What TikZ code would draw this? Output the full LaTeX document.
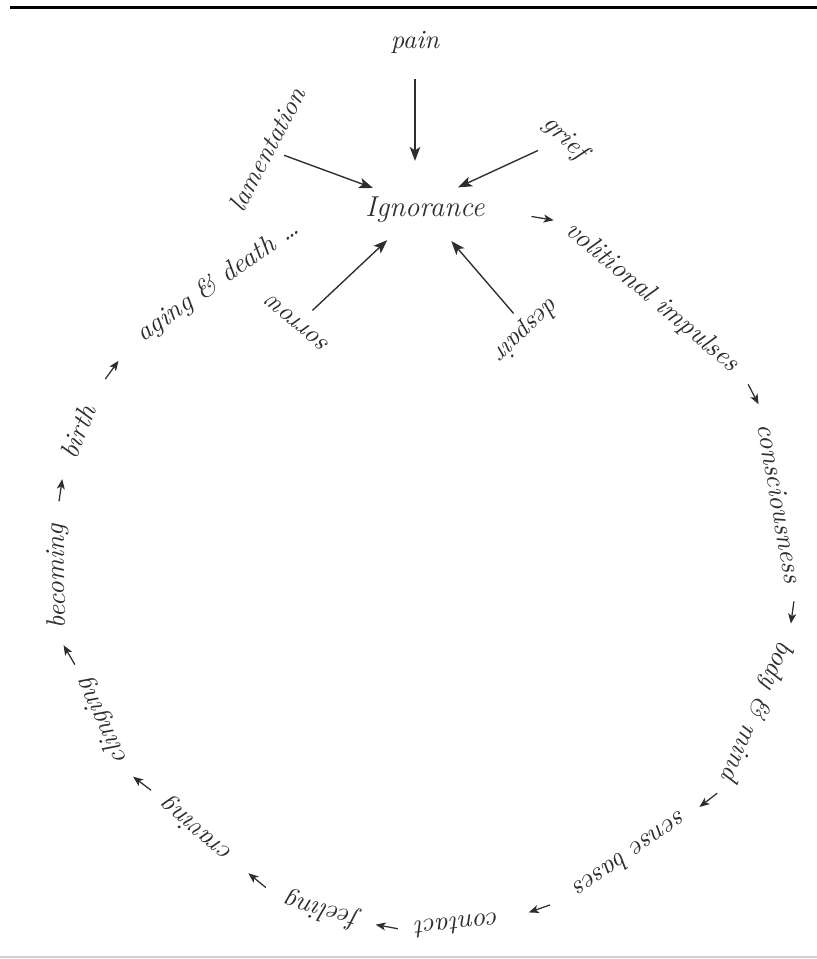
\documentclass[tikz,border=0pt]{standalone}
\usepackage{amsmath,amssymb}
\usepackage{xcolor}
\usepackage{tikz}
\usetikzlibrary{arrows.meta, decorations.markings}

\definecolor{ink}{HTML}{2E2E2E}

\begin{document}
\begin{tikzpicture}[
        x=0.4pt, y=0.4pt,
        every node/.style={text=ink},
        centre/.style={font=\fontsize{11.5}{14}\selectfont\itshape},
        woe/.style={font=\fontsize{10.5}{13}\selectfont\itshape},
        link/.style={font=\fontsize{10.8}{13}\selectfont\itshape},
        arrow/.style={-{Stealth[length=5.6pt, width=4.2pt, inset=1.4pt]}, line width=0.55pt, draw=ink},
        flow/.style={decoration={markings, mark=at position #1 with
            {\draw[-{Stealth[length=4pt, width=3.2pt, inset=1pt]}, line width=0.5pt, draw=ink] (-4.5pt,0) -- (4.5pt,0);}},
            decorate},
        flow/.default=0.5
    ]
    \useasboundingbox (-420,-389) rectangle (397,570);

    % Rules
    \draw[line width=1.2pt, black] (-410,562) -- (397,562);
    \draw[line width=1pt, black!18] (-420,-387) -- (397,-387);

    % Nodes - centre and its sorrows
    \node[centre] (ignorance) at (5,360) {Ignorance};
    \node[woe] (pain) at (-5,528) {pain};
    \node[woe, rotate=-45] (grief) at (145,432) {grief};
    \node[woe, rotate=-136] (despair) at (107,241) {despair};
    \node[woe, rotate=140] (sorrow) at (-122,246) {sorrow};
    \node[woe, rotate=62] (lamentation) at (-153,421) {lamentation};

    % Nodes - the round
    \node[link, rotate=-40] (volitional) at (49.6:358) {volitional impulses};
    \node[link, rotate=-80] (consciousness) at (10.5:366) {consciousness};
    \node[link, rotate=-113] (bodymind) at (-22.7:365) {body \& mind};
    \node[link, rotate=-145] (sense) at (-53.4:355) {sense bases};
    \node[link, rotate=-174] (contact) at (-84:357) {contact};
    \node[link, rotate=164] (feeling) at (-106:354) {feeling};
    \node[link, rotate=139] (craving) at (-130.6:342) {craving};
    \node[link, rotate=115] (clinging) at (-154.5:352) {clinging};
    \node[link, rotate=91] (becoming) at (-179:362) {becoming};
    \node[link, rotate=68] (birth) at (158:369) {birth};
    \node[link, rotate=35] (aging) at (125:352) {aging \& death \dots};

    % Arrows - into Ignorance
    \draw[arrow, shorten <=7pt, shorten >=11pt] (pain) -- (pain |- ignorance.north);
    \draw[arrow, shorten <=3pt, shorten >=1pt] (grief) -- (ignorance.35);
    \draw[arrow, shorten >=5pt] (despair) -- (ignorance.-50);
    \draw[arrow, shorten <=2pt, shorten >=5pt] (sorrow) -- (ignorance.217);
    \draw[arrow, shorten >=0.5pt] (lamentation) -- (ignorance.157);

    % Arrows - round the circle
    \path[flow=0.72] (ignorance.east) -- (volitional.west);
    \path[flow] (volitional.east) -- (consciousness.west);
    \path[flow] (consciousness.east) -- (bodymind.west);
    \path[flow] (bodymind.east) -- (sense.west);
    \path[flow] (sense.east) -- (contact.west);
    \path[flow] (contact.east) -- (feeling.west);
    \path[flow] (feeling.east) -- (craving.west);
    \path[flow] (craving.east) -- (clinging.west);
    \path[flow] (clinging.east) -- (becoming.west);
    \path[flow] (becoming.east) -- (birth.west);
    \path[flow] (birth.east) -- (aging.west);

\end{tikzpicture}
\end{document}
